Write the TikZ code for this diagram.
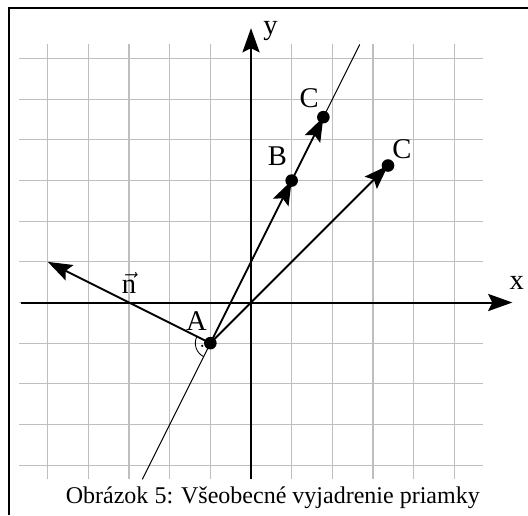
\documentclass[tikz,border=0pt]{standalone}
\usepackage{fontspec}
\setmainfont{Liberation Serif}
\usetikzlibrary{arrows.meta}
\definecolor{gridgray}{RGB}{190,190,190}
\begin{document}
\begin{tikzpicture}[x=1cm,y=1cm,
  gridline/.style={draw=gridgray, line width=0.8pt},
  axisline/.style={draw=black, line width=1.4pt, -{Stealth[length=17pt,width=12pt,inset=3pt]}},
  vecline/.style={draw=black, line width=1.3pt, -{Stealth[length=17pt,width=12pt,inset=3pt]}},
  thinline/.style={draw=black, line width=0.7pt},
  ptdot/.style={fill=black},
  lbl/.style={font=\fontsize{20}{22}\selectfont, inner sep=0pt},
  caption/.style={font=\fontsize{16.8}{20}\selectfont, inner sep=0pt, anchor=base}
]
\useasboundingbox (-6.175,-5.228) rectangle (6.814,7.442);
% frame (partly visible)
\draw[line width=0.9pt] (-5.953,-5.228) -- (-5.953,7.245) -- (6.814,7.245);
% grid
\foreach \x in {-5,...,5} \draw[gridline] (\x,-4.35) -- (\x,6.35);
\foreach \y in {-4,...,6} \draw[gridline] (-5.7,\y) -- (5.7,\y);
% coordinates
\coordinate (xs) at (-5.67,0);
\coordinate (xe) at (6.43,0);
\coordinate (ys) at (0,-4.35);
\coordinate (ye) at (0,6.75);
\coordinate (A) at (-1,-1);
\coordinate (B) at (1,3);
\coordinate (C1) at (1.78,4.56);
\coordinate (C2) at (3.37,3.37);
\coordinate (N) at (-5,1);
\coordinate (L1) at (-2.675,-4.35);
\coordinate (L2) at (2.675,6.35);
% axes
\draw[axisline] (xs) -- (xe);
\draw[axisline] (ys) -- (ye);
% line p
\draw[thinline] (L1) -- (L2);
% vectors
\draw[vecline] (A) -- (N);
\draw[vecline] (A) -- (B);
\draw[vecline] (B) -- (C1);
\draw[vecline] (A) -- (C2);
% right angle mark
\draw[line width=0.6pt] ([shift={(153.43:0.37)}]A) arc[start angle=153.43, end angle=243.43, radius=0.37];
\fill ([shift={(198.43:0.21)}]A) circle (0.03);
% dots
\fill[ptdot] (A) circle (0.155);
\fill[ptdot] (B) circle (0.155);
\fill[ptdot] (C1) circle (0.155);
\fill[ptdot] (C2) circle (0.155);
% labels
\node[lbl] (lx) at (6.54,0.47) {x};
\node[lbl] (ly) at (0.48,6.68) {y};
\node[lbl] (lA) at (-1.34,-0.45) {A};
\node[lbl] (lB) at (0.65,3.59) {B};
\node[lbl] (lC1) at (1.43,5.02) {C};
\node[lbl] (lC2) at (3.71,3.78) {C};
\node[lbl] (ln) at (-3.0,0.48) {$\vec{\textrm{n}}$};
\node[caption] (cap) at (0.536,-4.94) {Obrázok 5: Všeobecné vyjadrenie priamky};
\end{tikzpicture}
\end{document}
